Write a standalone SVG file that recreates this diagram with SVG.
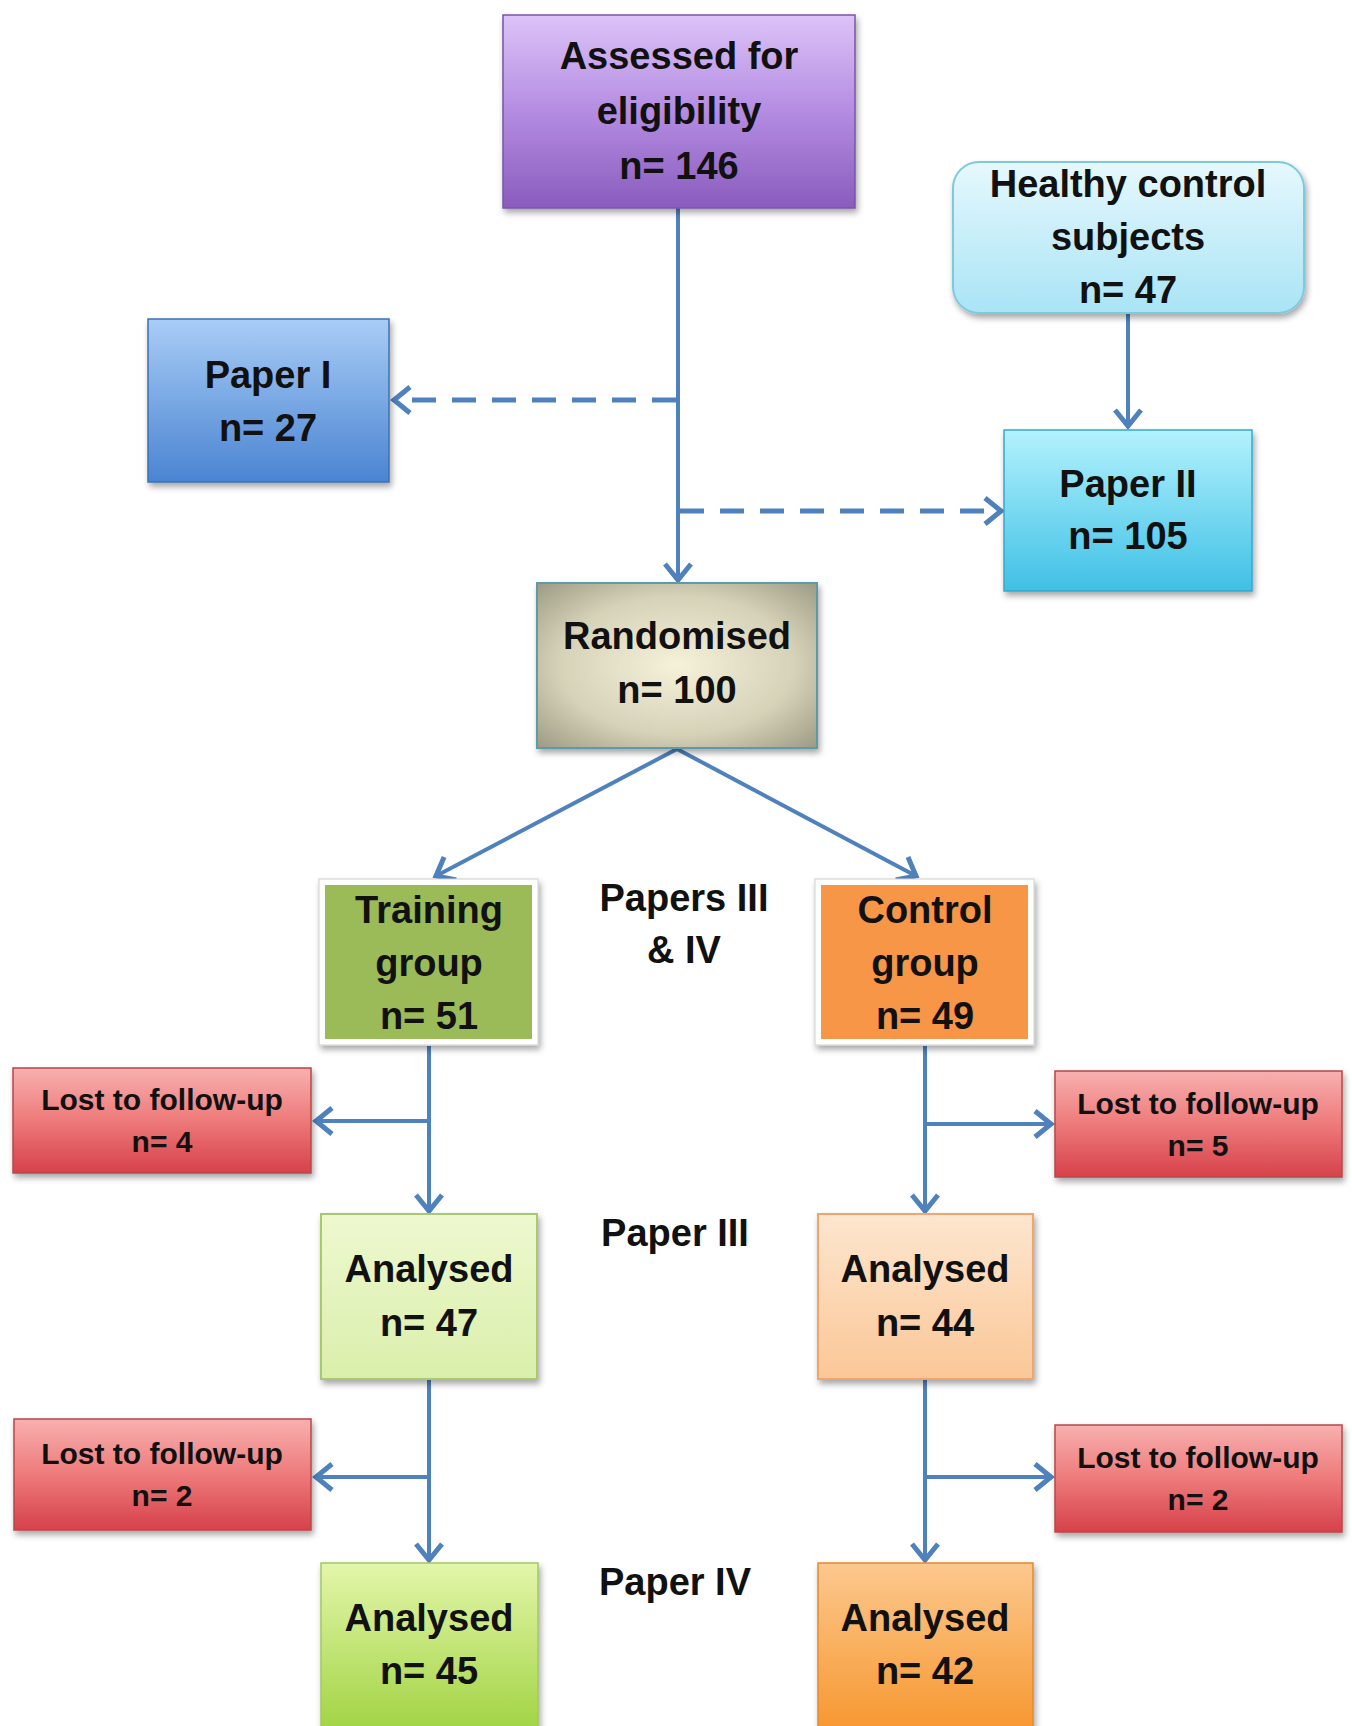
<svg xmlns="http://www.w3.org/2000/svg" width="1352" height="1726" viewBox="0 0 1352 1726">
<defs>
<style>
text{font-family:"Liberation Sans",Arial,sans-serif;font-weight:bold;fill:#111;text-anchor:middle}
.t{font-size:38px}
.s{font-size:30px}
.conn{stroke:#4f81bd;stroke-width:4;fill:none}
.dash{stroke:#4f81bd;stroke-width:5;fill:none;stroke-dasharray:24 16}
</style>
<filter id="sh" x="-10%" y="-10%" width="120%" height="130%">
<feDropShadow dx="2" dy="4" stdDeviation="3" flood-color="#000" flood-opacity="0.35"/>
</filter>
<marker id="ah" markerUnits="userSpaceOnUse" markerWidth="32" markerHeight="32" viewBox="0 0 32 32" refX="21" refY="16" orient="auto">
<path d="M5,3 L21,16 L5,29" fill="none" stroke="#4f81bd" stroke-width="5" stroke-linejoin="miter"/>
</marker>
<linearGradient id="gPurple" x1="0" y1="0" x2="0" y2="1"><stop offset="0" stop-color="#dcc3f7"/><stop offset="0.5" stop-color="#b48ce2"/><stop offset="1" stop-color="#8a5cbd"/></linearGradient>
<linearGradient id="gCyanL" x1="0" y1="0" x2="0" y2="1"><stop offset="0" stop-color="#e6f8fd"/><stop offset="1" stop-color="#a9e4f5"/></linearGradient>
<linearGradient id="gBlue" x1="0" y1="0" x2="0" y2="1"><stop offset="0" stop-color="#a9cdf6"/><stop offset="1" stop-color="#4a84d2"/></linearGradient>
<linearGradient id="gCyan" x1="0" y1="0" x2="0" y2="1"><stop offset="0" stop-color="#b3f2fd"/><stop offset="1" stop-color="#3fc0e6"/></linearGradient>
<radialGradient id="gRand" cx="0.5" cy="0.5" r="0.7"><stop offset="0" stop-color="#f6f2da"/><stop offset="0.6" stop-color="#d6d2b8"/><stop offset="1" stop-color="#9e9b85"/></radialGradient>
<linearGradient id="gRed" x1="0" y1="0" x2="0" y2="1"><stop offset="0" stop-color="#f8b0b0"/><stop offset="0.5" stop-color="#ee7a7a"/><stop offset="1" stop-color="#d6414a"/></linearGradient>
<linearGradient id="gGreenL" x1="0" y1="0" x2="0" y2="1"><stop offset="0" stop-color="#eef8cf"/><stop offset="1" stop-color="#daefab"/></linearGradient>
<linearGradient id="gOrangeL" x1="0" y1="0" x2="0" y2="1"><stop offset="0" stop-color="#fde6cf"/><stop offset="1" stop-color="#fbc797"/></linearGradient>
<linearGradient id="gGreen" x1="0" y1="0" x2="0" y2="1"><stop offset="0" stop-color="#e3f6aa"/><stop offset="1" stop-color="#9fd23f"/></linearGradient>
<linearGradient id="gOrange" x1="0" y1="0" x2="0" y2="1"><stop offset="0" stop-color="#fcc88e"/><stop offset="1" stop-color="#f7952c"/></linearGradient>
</defs>
<rect width="1352" height="1726" fill="#fff"/>

<g id="connectors">
<line class="conn" x1="678" y1="208" x2="678" y2="580" marker-end="url(#ah)"/>
<line class="dash" x1="676" y1="400" x2="394" y2="400" marker-end="url(#ah)"/>
<line class="dash" x1="680" y1="511" x2="1001" y2="511" marker-end="url(#ah)"/>
<line class="conn" x1="1128" y1="314" x2="1128" y2="426" marker-end="url(#ah)"/>
<line class="conn" x1="677" y1="749" x2="436" y2="876" marker-end="url(#ah)"/>
<line class="conn" x1="677" y1="749" x2="916" y2="876" marker-end="url(#ah)"/>
<line class="conn" x1="429" y1="1046" x2="429" y2="1211" marker-end="url(#ah)"/>
<line class="conn" x1="429" y1="1121" x2="316" y2="1121" marker-end="url(#ah)"/>
<line class="conn" x1="925" y1="1046" x2="925" y2="1211" marker-end="url(#ah)"/>
<line class="conn" x1="925" y1="1124" x2="1051" y2="1124" marker-end="url(#ah)"/>
<line class="conn" x1="429" y1="1380" x2="429" y2="1560" marker-end="url(#ah)"/>
<line class="conn" x1="429" y1="1477" x2="316" y2="1477" marker-end="url(#ah)"/>
<line class="conn" x1="925" y1="1380" x2="925" y2="1560" marker-end="url(#ah)"/>
<line class="conn" x1="925" y1="1477" x2="1051" y2="1477" marker-end="url(#ah)"/>
</g>

<g id="assessed">
<rect x="503" y="15" width="352" height="193" fill="url(#gPurple)" stroke="#7a54a8" stroke-width="1.5" filter="url(#sh)"/>
<text class="t" x="679" y="69">Assessed for</text>
<text class="t" x="679" y="124">eligibility</text>
<text class="t" x="679" y="179">n= 146</text>
</g>

<g id="healthy">
<rect x="953" y="162" width="351" height="151" rx="26" fill="url(#gCyanL)" stroke="#7cc9e0" stroke-width="2" filter="url(#sh)"/>
<text class="t" x="1128" y="197">Healthy control</text>
<text class="t" x="1128" y="250">subjects</text>
<text class="t" x="1128" y="303">n= 47</text>
</g>

<g id="paper1">
<rect x="148" y="319" width="241" height="163" fill="url(#gBlue)" stroke="#3e70b4" stroke-width="1.5" filter="url(#sh)"/>
<text class="t" x="268" y="388">Paper I</text>
<text class="t" x="268" y="441">n= 27</text>
</g>

<g id="paper2">
<rect x="1004" y="430" width="248" height="161" fill="url(#gCyan)" stroke="#36a9cc" stroke-width="1.5" filter="url(#sh)"/>
<text class="t" x="1128" y="497">Paper II</text>
<text class="t" x="1128" y="549">n= 105</text>
</g>

<g id="randomised">
<rect x="537" y="583" width="280" height="165" fill="url(#gRand)" stroke="#5f9aa8" stroke-width="2" filter="url(#sh)"/>
<text class="t" x="677" y="649">Randomised</text>
<text class="t" x="677" y="703">n= 100</text>
</g>

<g id="training">
<rect x="319" y="879" width="219" height="166" fill="#fff" stroke="#cfcfcf" stroke-width="1" filter="url(#sh)"/>
<rect x="325" y="885" width="207" height="154" fill="#9bbb59"/>
<text class="t" x="429" y="923">Training</text>
<text class="t" x="429" y="976">group</text>
<text class="t" x="429" y="1029">n= 51</text>
</g>

<g id="control">
<rect x="815" y="879" width="219" height="166" fill="#fff" stroke="#cfcfcf" stroke-width="1" filter="url(#sh)"/>
<rect x="821" y="885" width="207" height="154" fill="#f79646"/>
<text class="t" x="925" y="923">Control</text>
<text class="t" x="925" y="976">group</text>
<text class="t" x="925" y="1029">n= 49</text>
</g>

<g id="label-papers34">
<text class="t" x="684" y="911">Papers III</text>
<text class="t" x="684" y="963">&amp; IV</text>
</g>

<g id="lost1">
<rect x="13" y="1068" width="298" height="105" fill="url(#gRed)" stroke="#b8474a" stroke-width="1.5" filter="url(#sh)"/>
<text class="s" x="162" y="1110">Lost to follow-up</text>
<text class="s" x="162" y="1152">n= 4</text>
</g>

<g id="lost2">
<rect x="1055" y="1071" width="287" height="106" fill="url(#gRed)" stroke="#b8474a" stroke-width="1.5" filter="url(#sh)"/>
<text class="s" x="1198" y="1114">Lost to follow-up</text>
<text class="s" x="1198" y="1156">n= 5</text>
</g>

<g id="analysed47">
<rect x="321" y="1214" width="216" height="165" fill="url(#gGreenL)" stroke="#a9c96e" stroke-width="2" filter="url(#sh)"/>
<text class="t" x="429" y="1282">Analysed</text>
<text class="t" x="429" y="1336">n= 47</text>
</g>

<g id="analysed44">
<rect x="818" y="1214" width="215" height="165" fill="url(#gOrangeL)" stroke="#f0a66a" stroke-width="2" filter="url(#sh)"/>
<text class="t" x="925" y="1282">Analysed</text>
<text class="t" x="925" y="1336">n= 44</text>
</g>

<g id="label-paper3">
<text class="t" x="675" y="1246">Paper III</text>
</g>

<g id="lost3">
<rect x="14" y="1419" width="297" height="111" fill="url(#gRed)" stroke="#b8474a" stroke-width="1.5" filter="url(#sh)"/>
<text class="s" x="162" y="1464">Lost to follow-up</text>
<text class="s" x="162" y="1506">n= 2</text>
</g>

<g id="lost4">
<rect x="1055" y="1425" width="287" height="107" fill="url(#gRed)" stroke="#b8474a" stroke-width="1.5" filter="url(#sh)"/>
<text class="s" x="1198" y="1468">Lost to follow-up</text>
<text class="s" x="1198" y="1510">n= 2</text>
</g>

<g id="analysed45">
<rect x="321" y="1563" width="217" height="175" fill="url(#gGreen)" stroke="#a3c76a" stroke-width="1.5" filter="url(#sh)"/>
<text class="t" x="429" y="1631">Analysed</text>
<text class="t" x="429" y="1684">n= 45</text>
</g>

<g id="analysed42">
<rect x="818" y="1563" width="215" height="175" fill="url(#gOrange)" stroke="#e4892f" stroke-width="1.5" filter="url(#sh)"/>
<text class="t" x="925" y="1631">Analysed</text>
<text class="t" x="925" y="1684">n= 42</text>
</g>

<g id="label-paper4">
<text class="t" x="675" y="1595">Paper IV</text>
</g>
</svg>
